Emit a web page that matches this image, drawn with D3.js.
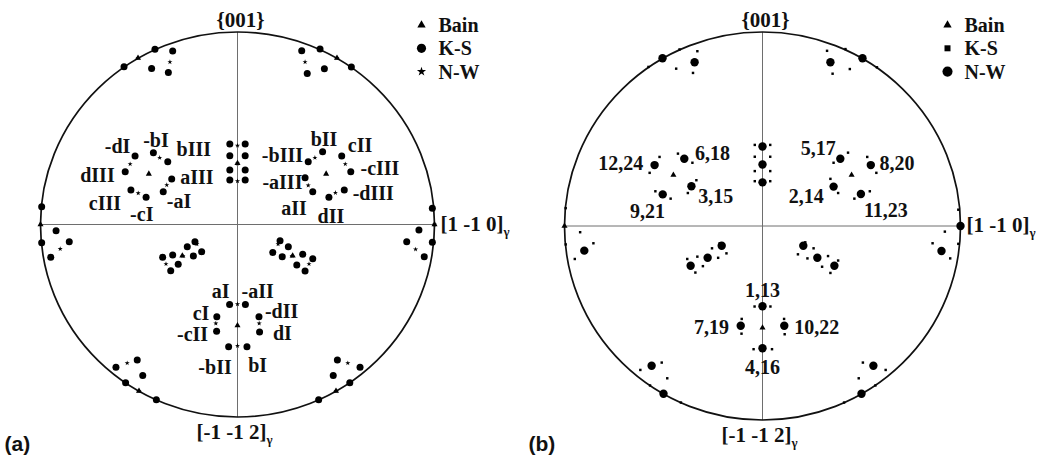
<!DOCTYPE html>
<html>
<head>
<meta charset="utf-8">
<script src="https://cdn.jsdelivr.net/npm/d3@7"></script>
<style>
  html, body { margin: 0; padding: 0; background: #fff; }
  svg { display: block; }
</style>
</head>
<body>
<svg id="chart" width="1037" height="471"></svg>
<script>
// {001} pole figure of the variants, projected on the (111) plane of austenite.
// Coordinates are projection units inside the unit circle (x along [1 -1 0], y along [-1 -1 2] upward).

const bainPoles = [
  [-0.505, 0.865], [0.505, 0.865], [-0.45, 0.263], [0.45, 0.263], [0, 0.318],
  [-1, 0], [1, 0], [-0.28, -0.162], [0.28, -0.162], [0, -0.525],
  [-0.50, -0.865], [0.50, -0.865]
];

const ksPoles = [
  // upper left rim group
  [-0.419, 0.910], [-0.329, 0.901], [-0.576, 0.820], [-0.436, 0.811], [-0.351, 0.789],
  // upper right rim group
  [0.419, 0.912], [0.326, 0.903], [0.578, 0.818], [0.441, 0.809], [0.354, 0.785],
  // left group around the Bain pole
  [-0.520, 0.356], [-0.427, 0.373], [-0.354, 0.326], [-0.570, 0.274],
  [-0.334, 0.236], [-0.377, 0.170], [-0.541, 0.179], [-0.464, 0.141],
  // right group around the Bain pole
  [0.432, 0.378], [0.359, 0.326], [0.529, 0.356], [0.575, 0.274],
  [0.343, 0.243], [0.382, 0.170], [0.464, 0.141], [0.542, 0.179],
  // upper centre column
  [-0.039, 0.418], [0.039, 0.418], [-0.039, 0.357], [0.039, 0.357],
  [-0.039, 0.283], [0.039, 0.283], [-0.039, 0.231], [0.039, 0.231],
  // left rim
  [-0.994, 0.092], [-0.921, -0.032], [-0.994, -0.095], [-0.854, -0.089], [-0.948, -0.170],
  // right rim
  [0.989, 0.084], [0.921, -0.029], [0.989, -0.092], [0.859, -0.089], [0.948, -0.167],
  // lower left band
  [-0.380, -0.170], [-0.329, -0.158], [-0.255, -0.115], [-0.216, -0.089],
  [-0.182, -0.141], [-0.224, -0.164], [-0.301, -0.207], [-0.339, -0.240],
  // lower right band
  [0.216, -0.084], [0.258, -0.115], [0.179, -0.146], [0.227, -0.167],
  [0.331, -0.155], [0.382, -0.178], [0.301, -0.210], [0.343, -0.242],
  // lower centre group
  [-0.040, -0.415], [0.040, -0.415], [-0.105, -0.479], [-0.106, -0.555],
  [0.109, -0.479], [0.112, -0.558], [-0.045, -0.635], [0.048, -0.635],
  // lower left rim group
  [-0.617, -0.742], [-0.509, -0.704], [-0.481, -0.785], [-0.568, -0.822], [-0.412, -0.910],
  // lower right rim group
  [0.507, -0.704], [0.622, -0.742], [0.486, -0.785], [0.570, -0.822], [0.412, -0.910]
];

const nwPoles = [
  [-0.343, 0.844], [-0.505, 0.865], [0.343, 0.844], [0.505, 0.865],
  [-0.395, 0.347], [-0.545, 0.314], [-0.359, 0.205], [-0.504, 0.163],
  [0.393, 0.347], [0.547, 0.314], [0.359, 0.203], [0.497, 0.165],
  [0, 0.41], [0, 0.317], [0, 0.225],
  [-0.90, -0.127], [0.904, -0.129], [1, 0],
  [-0.363, -0.205], [-0.277, -0.164], [-0.206, -0.102],
  [0.206, -0.102], [0.277, -0.164], [0.363, -0.205],
  [0, -0.414], [-0.11, -0.514], [0.11, -0.514], [0, -0.63],
  [-0.56, -0.72], [-0.50, -0.865], [0.56, -0.72], [0.50, -0.865]
];

// variant labels (text, x, y in projection units)
const variantLabelsA = [
  ["-dI", -0.609, 0.408], ["-bI", -0.414, 0.440], ["bIII", -0.222, 0.392], ["dIII", -0.711, 0.257],
  ["aIII", -0.206, 0.248], ["cIII", -0.673, 0.110], ["-cI", -0.486, 0.055], ["-aI", -0.297, 0.123],
  ["bII", 0.439, 0.444], ["cII", 0.622, 0.413], ["-bIII", 0.228, 0.361], ["-cIII", 0.723, 0.296],
  ["-aIII", 0.228, 0.222], ["-dIII", 0.689, 0.162], ["aII", 0.287, 0.084], ["dII", 0.474, 0.045],
  ["aI", -0.086, -0.348], ["-aII", 0.102, -0.348], ["cI", -0.185, -0.462], ["-cII", -0.228, -0.570],
  ["-dII", 0.224, -0.449], ["dI", 0.228, -0.564], ["-bII", -0.114, -0.739], ["bI", 0.102, -0.730]
];

const variantLabelsB = [
  ["12,24", -0.716, 0.323], ["6,18", -0.253, 0.376], ["9,21", -0.581, 0.078], ["3,15", -0.236, 0.155],
  ["5,17", 0.282, 0.400], ["8,20", 0.679, 0.323], ["2,14", 0.221, 0.156], ["11,23", 0.623, 0.082],
  ["1,13", 0, -0.330], ["7,19", -0.257, -0.519], ["10,22", 0.274, -0.519], ["4,16", 0, -0.729]
];

const legendNames = ["Bain", "K-S", "N-W"];
const topLabel = "{001}";
const rightLabel = "[1 -1 0]";
const bottomLabel = "[-1 -1 2]";
const phaseSub = "γ";

const svg = d3.select("#chart");
const serif = "'Liberation Serif', 'Times New Roman', serif";

const panels = [
  { tag: "(a)", cx: 237.5, cy: 224.5, rx: 197, ry: 192.5, mode: "a", labels: variantLabelsA },
  { tag: "(b)", cx: 762.5, cy: 226, rx: 198, ry: 194, mode: "b", labels: variantLabelsB }
];

const sym = (type, size) => d3.symbol().type(type).size(size)();

function drawPanel(p) {
  const x = d3.scaleLinear().domain([-1, 1]).range([p.cx - p.rx, p.cx + p.rx]);
  const y = d3.scaleLinear().domain([-1, 1]).range([p.cy + p.ry, p.cy - p.ry]);
  const g = svg.append("g");

  // reference axes
  g.append("line").attr("x1", x(-1)).attr("x2", x(1)).attr("y1", y(0)).attr("y2", y(0))
    .attr("stroke", "#6e6e6e").attr("stroke-width", 1);
  g.append("line").attr("x1", x(0)).attr("x2", x(0)).attr("y1", y(1)).attr("y2", y(-1))
    .attr("stroke", "#6e6e6e").attr("stroke-width", 1);

  // primitive circle
  g.append("ellipse").attr("cx", x(0)).attr("cy", y(0))
    .attr("rx", x(1) - x(0)).attr("ry", y(0) - y(1))
    .attr("fill", "none").attr("stroke", "#111").attr("stroke-width", 1.7);

  const tri = sym(d3.symbolTriangle, 16);
  const pos = d => `translate(${x(d[0])},${y(d[1])})`;

  if (p.mode === "a") {
    g.selectAll(".ks").data(ksPoles).join("circle")
      .attr("cx", d => x(d[0])).attr("cy", d => y(d[1])).attr("r", 3.5).attr("fill", "#000");
    g.selectAll(".nw").data(nwPoles).join("path")
      .attr("d", sym(d3.symbolStar, 8)).attr("transform", pos).attr("fill", "#000");
    g.selectAll(".bain").data(bainPoles).join("path")
      .attr("d", tri).attr("transform", pos).attr("fill", "#000");
  } else {
    g.selectAll(".bain").data(bainPoles).join("path")
      .attr("d", tri).attr("transform", pos).attr("fill", "#000");
    g.selectAll(".ks").data(ksPoles).join("path")
      .attr("d", sym(d3.symbolSquare, 6)).attr("transform", pos).attr("fill", "#000");
    g.selectAll(".nw").data(nwPoles).join("circle")
      .attr("cx", d => x(d[0])).attr("cy", d => y(d[1])).attr("r", 4.2).attr("fill", "#000");
  }

  // variant labels
  g.selectAll(".vl").data(p.labels).join("text")
    .attr("x", d => x(d[1])).attr("y", d => y(d[2]))
    .attr("text-anchor", "middle").attr("dominant-baseline", "central")
    .attr("font-family", serif).attr("font-weight", "bold").attr("font-size", 20)
    .attr("fill", "#111").text(d => d[0]);

  // pole direction labels
  g.append("text").attr("x", x(0) + 3).attr("y", y(1) - 5)
    .attr("text-anchor", "middle").attr("font-family", serif).attr("font-weight", "bold")
    .attr("font-size", 21).attr("fill", "#111").text(topLabel);

  const rt = g.append("text").attr("x", x(1) + 6).attr("y", y(0) + 6)
    .attr("font-family", serif).attr("font-weight", "bold").attr("font-size", 21).attr("fill", "#111");
  rt.append("tspan").text(rightLabel);
  rt.append("tspan").attr("font-size", 13).attr("dy", 5).text(phaseSub);

  const bt = g.append("text").attr("x", x(0) - 41).attr("y", y(-1) + 22)
    .attr("font-family", serif).attr("font-weight", "bold").attr("font-size", 21).attr("fill", "#111");
  bt.append("tspan").text(bottomLabel);
  bt.append("tspan").attr("font-size", 13).attr("dy", 5).text(phaseSub);

  // panel tag
  g.append("text").attr("x", p.cx - p.rx - 36).attr("y", 451)
    .attr("font-family", "'Liberation Sans', Arial, sans-serif").attr("font-weight", "bold")
    .attr("font-size", 21).attr("fill", "#111").text(p.tag);

  // legend
  const lx = x(1) - 13, ly = y(1) - 7;
  const lg = g.append("g").attr("transform", `translate(${lx},${ly})`);
  const legendMarks = p.mode === "a"
    ? [sym(d3.symbolTriangle, 30), sym(d3.symbolCircle, 66), sym(d3.symbolStar, 26)]
    : [sym(d3.symbolTriangle, 30), sym(d3.symbolSquare, 36), sym(d3.symbolCircle, 80)];
  legendNames.forEach((name, i) => {
    const row = lg.append("g").attr("transform", `translate(0,${i * 23.3})`);
    row.append("path").attr("d", legendMarks[i]).attr("fill", "#000");
    row.append("text").attr("x", 17).attr("y", 7)
      .attr("font-family", serif).attr("font-weight", "bold").attr("font-size", 20)
      .attr("fill", "#111").text(name);
  });
}

panels.forEach(drawPanel);
</script>
</body>
</html>
